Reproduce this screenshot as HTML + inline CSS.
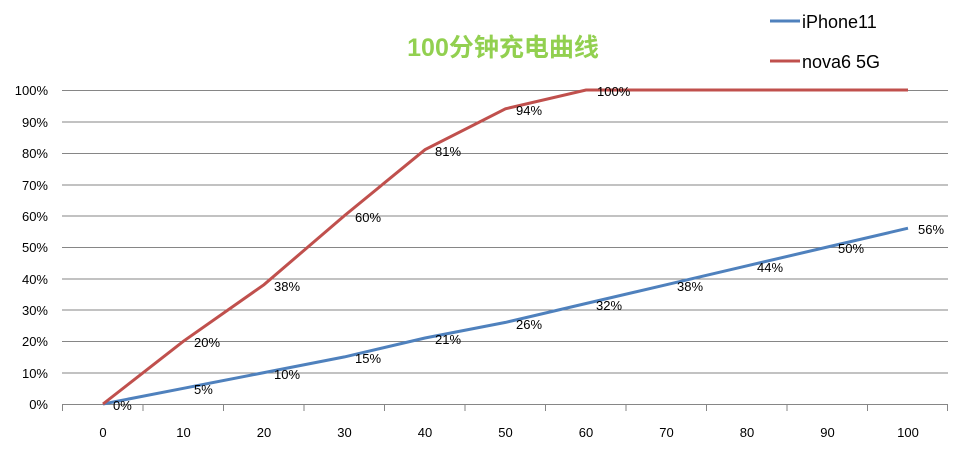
<!DOCTYPE html><html><head><meta charset="utf-8"><style>body{margin:0;background:#fff}</style></head><body>
<svg width="976" height="456" xmlns="http://www.w3.org/2000/svg" font-family="Liberation Sans, sans-serif">
<g stroke="#868686" stroke-width="1">
<line x1="62" y1="90.5" x2="948" y2="90.5"/><line x1="62" y1="122" x2="948" y2="122"/><line x1="62" y1="153.5" x2="948" y2="153.5"/><line x1="62" y1="185" x2="948" y2="185"/><line x1="62" y1="216" x2="948" y2="216"/><line x1="62" y1="247.5" x2="948" y2="247.5"/><line x1="62" y1="279" x2="948" y2="279"/><line x1="62" y1="310" x2="948" y2="310"/><line x1="62" y1="341.5" x2="948" y2="341.5"/><line x1="62" y1="373" x2="948" y2="373"/><line x1="62" y1="404.5" x2="948" y2="404.5"/>
<line x1="62.5" y1="404" x2="62.5" y2="411"/><line x1="143" y1="404" x2="143" y2="411"/><line x1="223.5" y1="404" x2="223.5" y2="411"/><line x1="304" y1="404" x2="304" y2="411"/><line x1="384.5" y1="404" x2="384.5" y2="411"/><line x1="465" y1="404" x2="465" y2="411"/><line x1="545.5" y1="404" x2="545.5" y2="411"/><line x1="626" y1="404" x2="626" y2="411"/><line x1="706.5" y1="404" x2="706.5" y2="411"/><line x1="787" y1="404" x2="787" y2="411"/><line x1="867.5" y1="404" x2="867.5" y2="411"/><line x1="947.5" y1="404" x2="947.5" y2="411"/>
</g>
<g font-size="13" fill="#000" text-anchor="end">
<text x="48" y="95">100%</text><text x="48" y="127">90%</text><text x="48" y="158">80%</text><text x="48" y="190">70%</text><text x="48" y="221">60%</text><text x="48" y="252">50%</text><text x="48" y="284">40%</text><text x="48" y="315">30%</text><text x="48" y="346">20%</text><text x="48" y="378">10%</text><text x="48" y="409">0%</text>
</g>
<g font-size="13" text-anchor="middle">
<text x="103" y="437">0</text><text x="183.5" y="437">10</text><text x="264" y="437">20</text><text x="344.5" y="437">30</text><text x="425" y="437">40</text><text x="505.5" y="437">50</text><text x="586" y="437">60</text><text x="666.5" y="437">70</text><text x="747" y="437">80</text><text x="827.5" y="437">90</text><text x="908" y="437">100</text>
</g>
<polyline fill="none" stroke="#4f81bd" stroke-width="3" points="103,404 183.5,388.3 264,372.6 344.5,356.9 425,338 505.5,322.4 586,303.5 666.5,284.7 747,265.8 827.5,247 908,228.2"/>
<polyline fill="none" stroke="#c0504d" stroke-width="3" points="103,404 183.5,341.2 264,284.7 344.5,215.6 425,149.7 505.5,108.8 586,90 666.5,90 747,90 827.5,90 908,90"/>
<g font-size="13">
<text x="113" y="410">0%</text><text x="194" y="394">5%</text><text x="274" y="379">10%</text><text x="355" y="363">15%</text><text x="435" y="344">21%</text><text x="516" y="329">26%</text><text x="596" y="310">32%</text><text x="677" y="291">38%</text><text x="757" y="272">44%</text><text x="838" y="253">50%</text><text x="918" y="234">56%</text>
<text x="194" y="347">20%</text><text x="274" y="291">38%</text><text x="355" y="222">60%</text><text x="435" y="156">81%</text><text x="516" y="115">94%</text><text x="597" y="96">100%</text>
</g>
<text x="503" y="56" text-anchor="middle" font-size="25" font-weight="bold" fill="#92d050" font-family="Liberation Sans, Noto Sans CJK SC, sans-serif">100分钟充电曲线</text>
<line x1="770" y1="21" x2="800" y2="21" stroke="#4f81bd" stroke-width="3"/>
<line x1="770" y1="61" x2="800" y2="61" stroke="#c0504d" stroke-width="3"/>
<g font-size="18"><text x="802" y="28">iPhone11</text><text x="802" y="68">nova6 5G</text></g>
</svg></body></html>
